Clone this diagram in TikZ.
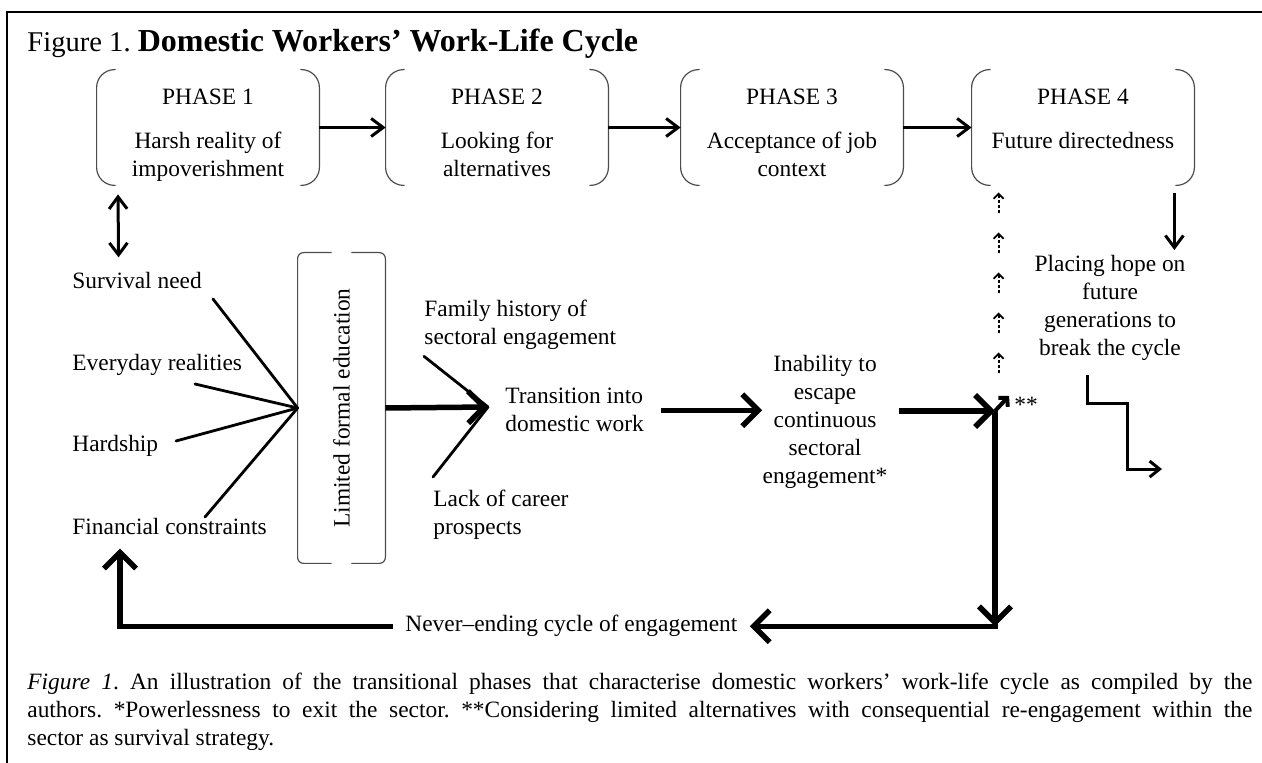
\documentclass[tikz,border=0pt]{standalone}
\usepackage{fontspec}
\setmainfont{Liberation Serif}
\usepackage{graphicx}
\usetikzlibrary{arrows.meta,calc,positioning}
\frenchspacing

\tikzset{
  txt/.style={inner sep=0pt, font=\fontsize{11.7}{14}\selectfont},
  phase/.style={minimum width=111pt, minimum height=57.5pt, inner sep=0pt},
  brk/.style={black!70, line width=0.6pt},
  thinarr/.style={line width=1.5pt, -{Straight Barb[length=6pt,width=9pt]}},
  dblarr/.style={line width=1.5pt, {Straight Barb[length=6pt,width=9pt]}-{Straight Barb[length=6pt,width=9pt]}},
  thickarr/.style={line width=2.75pt, -{Straight Barb[length=8pt,width=16pt]}},
  fan/.style={line width=1.4pt, line cap=round},
  dotarr/.style={line width=0.9pt, dash pattern=on 1.5pt off 1pt, -{Straight Barb[length=2.5pt,width=5pt]}},
}

\begin{document}
\begin{tikzpicture}[x=0.5pt,y=-0.5pt]
\useasboundingbox (0,0) rectangle (1262,763);

\draw[line width=1pt] (7,763) -- (7,12) -- (1262,12);
\node[txt, anchor=base west] (title) at (27,52) {{\fontsize{14.3}{17}\selectfont Figure 1. }{\fontsize{16}{19}\selectfont\bfseries Domestic Workers’ Work-Life Cycle}};

% phases
\node[phase] (p1) at (208,127.5) {};
\node[phase] (p2) at (497,127.5) {};
\node[phase] (p3) at (792,127.5) {};
\node[phase] (p4) at (1083,127.5) {};
\foreach \p/\n/\body in {p1/1/{Harsh reality of\\impoverishment}, p2/2/{Looking for\\alternatives}, p3/3/{Acceptance of job\\context}, p4/4/{Future directedness}}{
  \draw[brk, rounded corners=9pt] ([xshift=9.5pt]\p.north west) -- (\p.north west) -- (\p.south west) -- ([xshift=9.5pt]\p.south west);
  \draw[brk, rounded corners=9pt] ([xshift=-9.5pt]\p.north east) -- (\p.north east) -- (\p.south east) -- ([xshift=-9.5pt]\p.south east);
  \node[txt, anchor=base] (\p-h) at ([yshift=-17.5pt]\p.north) {PHASE \n};
  \node[txt, anchor=north, align=center] (\p-b) at ([yshift=-31pt]\p.north) {\body};
}
\draw[thinarr] (p1) -- (p2);
\draw[thinarr] (p2) -- (p3);
\draw[thinarr] (p3) -- (p4);

% causes
\node[txt, anchor=base west] (surv) at (72,289) {Survival need};
\node[txt, anchor=base west] (every) at (72,371) {Everyday realities};
\node[txt, anchor=base west] (hard) at (72,452) {Hardship};
\node[txt, anchor=base west] (fin) at (72,535) {Financial constraints};
\draw[dblarr] ([xshift=-45pt,yshift=-4.5pt]p1.south) -- ([xshift=-9.25pt,yshift=7.5pt]surv.north);

\node[txt, minimum width=43.5pt, minimum height=155pt] (edu) at (341.5,408) {\rotatebox{90}{Limited formal education}};
\draw[brk, rounded corners=3pt] ([xshift=17pt]edu.north west) -- (edu.north west) -- (edu.south west) -- ([xshift=17pt]edu.south west);
\draw[brk, rounded corners=3pt] ([xshift=-17pt]edu.north east) -- (edu.north east) -- (edu.south east) -- ([xshift=-17pt]edu.south east);

\coordinate (f1) at (213,299);
\coordinate (f2) at (195,384);
\coordinate (f3) at (176,441);
\coordinate (f4) at (205,517);
\foreach \c in {f1,f2,f3,f4} \draw[fan] (\c) -- (edu.west);

% transition
\node[txt, anchor=north west, align=left] (fam) at (424,300) {Family history of\\sectoral engagement};
\node[txt, anchor=north west, align=left] (trans) at (505,388) {Transition into\\domestic work};
\node[txt, anchor=north west, align=left] (lack) at (433,490) {Lack of career\\prospects};
\coordinate (meet) at (488,407);
\draw[thickarr] (edu.east) -- (meet);
\draw[fan] ([yshift=-3pt]fam.south west) -- (meet);
\draw[fan] ([yshift=6.5pt]lack.north west) -- (meet);

\node[txt, anchor=north, align=center] (inab) at (825,355) {Inability to\\escape\\continuous\\sectoral\\engagement*};
\draw[thickarr] ([xshift=8.5pt]trans.east) -- (trans.east -| inab.west);

\coordinate (jn) at (995,411);
\draw[thickarr] ($(inab.east |- jn)+(11,0)$) -- (jn);
\draw[line width=2pt, -{Straight Barb[length=3pt,width=6.5pt]}] (jn) -- ++(14,-15);
\node[txt, anchor=base west] (ast) at (1014,413) {**};

% cycle
\node[txt, anchor=base west] (cyc) at (405,632) {Never--ending cycle of engagement};
\draw[thickarr] (jn) -- (jn |- cyc.east);
\draw[thickarr, line cap=rect] (jn |- cyc.east) -- ([xshift=6pt]cyc.east);
\draw[thickarr] ([xshift=-6pt]cyc.west) -| ($(fin.south west)+(48,13)$);

% phase 4 side
\foreach \k in {0,...,4} \draw[dotarr] ($(p4.south west)+(27,28+40*\k)$) -- ++(0,-21);
\node[txt, anchor=north, align=center] (hope) at (1110,255) {Placing hope on\\future\\generations to\\break the cycle};
\draw[thinarr] ($(p4.south east)+(-20,8)$) -- ($(p4.south east |- hope.north)+(-20,-5)$);
\draw[line width=1.5pt, -{Straight Barb[length=5pt,width=8pt]}] ($(hope.south)+(-23,14)$) -- ++(0,28) -- ++(40,0) -- ++(0,66) -- ++(35,0);

\node[txt, anchor=north west, text width=612.5pt, align=justify] (cap) at (27,673) {\textit{Figure 1}. An illustration of the transitional phases that characterise domestic workers’ work-life cycle as compiled by the\linebreak authors. *Powerlessness to exit the sector. **Considering limited alternatives with consequential re-engagement within the\linebreak sector as survival strategy.};
\end{tikzpicture}
\end{document}
